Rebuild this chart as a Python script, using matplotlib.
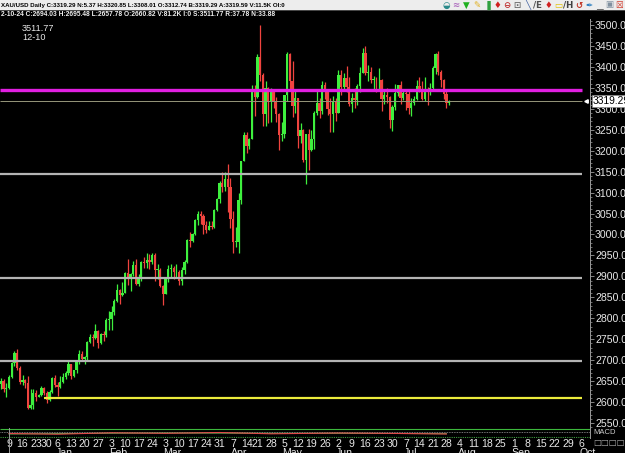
import numpy as np
import pandas as pd
import matplotlib
matplotlib.use("Agg")
import matplotlib.pyplot as plt
from matplotlib.transforms import blended_transform_factory

plt.rcParams['font.family'] = ['Liberation Sans Narrow', 'Liberation Sans', 'DejaVu Sans']

# trading days shown on the chart (holidays with no candle removed)
holidays = ['2024-12-25', '2025-01-01', '2025-04-18']
days = pd.bdate_range('2024-12-04', '2025-10-10')
days = days[~days.isin(pd.to_datetime(holidays))]

# daily XAU/USD candles, Dec 4 2024 .. Jul 29 2025
opens = [2643, 2650, 2632,
         2633, 2660.82, 2694, 2718, 2681,
         2648, 2652, 2646, 2587, 2594,
         2622, 2613, 2617, 2634,
         2621, 2606, 2624, 2658,
         2640, 2635, 2649, 2661, 2670,
         2690, 2663, 2677, 2697, 2715,
         2702, 2708, 2744, 2755, 2754,
         2770, 2740, 2763, 2760, 2795,
         2798, 2815, 2842, 2867, 2856,
         2861, 2908, 2898, 2905, 2928,
         2883, 2898, 2935, 2933, 2939,
         2935, 2951, 2915, 2916, 2876,
         2857, 2893, 2918, 2920, 2910,
         2910, 2889, 2916, 2935, 2988,
         2985, 3001, 3035, 3048, 3044,
         3023, 3011, 3020, 3019, 3058,
         3085, 3124, 3113, 3133, 3114,
         3037, 2982, 2983, 3083, 3175,
         3237, 3211, 3229, 3342,
         3327, 3423, 3381, 3288, 3349,
         3318, 3343, 3317, 3288, 3238,
         3241, 3333, 3430, 3366, 3306,
         3325, 3234, 3249, 3178, 3240,
         3202, 3229, 3291, 3315, 3295,
         3357, 3342, 3300, 3288, 3318,
         3289, 3381, 3353, 3373, 3352,
         3311, 3326, 3322, 3355, 3386,
         3432, 3385, 3389, 3369, 3369,
         3368, 3368, 3323, 3333, 3328,
         3274, 3304, 3338, 3357, 3326,
         3337, 3336, 3301, 3313, 3324,
         3355, 3343, 3324, 3347, 3339,
         3350, 3397, 3431, 3387, 3368,
         3336, 3312.74]
highs = [2657, 2656, 2646,
         2665, 2695.48, 2721, 2726, 2686,
         2664, 2655, 2663, 2632, 2632,
         2630, 2620, 2639, 2637,
         2627, 2628, 2660, 2665,
         2649, 2662, 2670, 2674, 2697,
         2692, 2677, 2699, 2724, 2722,
         2710, 2746, 2763, 2763, 2786,
         2772, 2765, 2770, 2800, 2817,
         2830, 2845, 2882, 2870, 2886,
         2911, 2942, 2908, 2937, 2942,
         2905, 2936, 2947, 2955, 2954,
         2956, 2956, 2930, 2920, 2880,
         2896, 2927, 2930, 2926, 2930,
         2915, 2922, 2940, 2990, 3005,
         3003, 3038, 3056, 3057, 3048,
         3033, 3032, 3032, 3060, 3087,
         3128, 3149, 3148, 3168, 3136,
         3055, 3018, 3099, 3175, 3245,
         3245, 3231, 3357, 3357,
         3430, 3500, 3386, 3367, 3353,
         3350, 3346, 3327, 3290, 3269,
         3334, 3436, 3434, 3415, 3348,
         3326, 3265, 3252, 3240, 3252,
         3249, 3295, 3345, 3325, 3366,
         3365, 3344, 3325, 3331, 3325,
         3392, 3392, 3385, 3403, 3375,
         3338, 3349, 3360, 3399, 3446,
         3451, 3405, 3399, 3378, 3375,
         3398, 3370, 3347, 3350, 3330,
         3308, 3358, 3357, 3366, 3345,
         3343, 3345, 3325, 3330, 3369,
         3375, 3366, 3377, 3352, 3361,
         3402, 3433, 3438, 3393, 3372,
         3345, 3320.85]
lows = [2631, 2625, 2613,
        2632, 2657.78, 2686, 2677, 2643,
        2642, 2634, 2583, 2583, 2584,
        2602, 2611, 2615, 2616,
        2597, 2602, 2622, 2635,
        2615, 2633, 2645, 2656, 2664,
        2656, 2660, 2669, 2691, 2697,
        2690, 2700, 2741, 2735, 2750,
        2730, 2738, 2745, 2755, 2772,
        2772, 2808, 2840, 2834, 2853,
        2860, 2880, 2864, 2900, 2880,
        2877, 2890, 2921, 2919, 2918,
        2930, 2889, 2894, 2874, 2832,
        2857, 2886, 2895, 2894, 2897,
        2880, 2880, 2905, 2932, 2970,
        2982, 2998, 3023, 3025, 3000,
        3004, 3010, 3012, 3015, 3055,
        3076, 3101, 3105, 3054, 3015,
        2956, 2970, 2957, 3073, 3175,
        3194, 3204, 3228, 3283,
        3325, 3367, 3260, 3260, 3265,
        3268, 3301, 3268, 3202, 3222,
        3231, 3319, 3345, 3280, 3290,
        3207, 3219, 3174, 3120, 3153,
        3200, 3203, 3285, 3277, 3287,
        3324, 3285, 3245, 3245, 3271,
        3289, 3334, 3343, 3340, 3307,
        3293, 3301, 3310, 3340, 3385,
        3381, 3366, 3362, 3346, 3340,
        3347, 3295, 3311, 3315, 3255,
        3248, 3297, 3330, 3311, 3322,
        3296, 3287, 3283, 3310, 3321,
        3341, 3320, 3319, 3309, 3332,
        3345, 3384, 3381, 3351, 3324,
        3301, 3308.01]
closes = [2650, 2632, 2633,
          2660, 2694.03, 2718, 2681, 2648,
          2652, 2646, 2587, 2594, 2622,
          2613, 2617, 2634, 2621,
          2606, 2624, 2658, 2640,
          2635, 2649, 2661, 2670, 2690,
          2663, 2677, 2697, 2715, 2702,
          2708, 2744, 2755, 2754, 2770,
          2740, 2763, 2760, 2795, 2798,
          2815, 2842, 2867, 2856, 2861,
          2908, 2898, 2905, 2928, 2883,
          2898, 2935, 2933, 2939, 2935,
          2951, 2915, 2916, 2876, 2857,
          2893, 2918, 2920, 2910, 2910,
          2889, 2916, 2935, 2988, 2985,
          3001, 3035, 3048, 3044, 3023,
          3011, 3020, 3019, 3058, 3085,
          3124, 3113, 3133, 3114, 3037,
          2982, 2983, 3083, 3175, 3237,
          3211, 3229, 3342, 3327,
          3423, 3381, 3288, 3349, 3318,
          3343, 3317, 3288, 3238, 3241,
          3333, 3430, 3366, 3306, 3325,
          3234, 3249, 3178, 3240, 3202,
          3229, 3291, 3315, 3295, 3357,
          3342, 3300, 3288, 3318, 3289,
          3381, 3353, 3373, 3352, 3311,
          3326, 3322, 3355, 3386, 3432,
          3385, 3389, 3369, 3369, 3368,
          3368, 3323, 3333, 3328, 3274,
          3304, 3338, 3357, 3326, 3337,
          3336, 3301, 3313, 3324, 3355,
          3343, 3324, 3347, 3339, 3350,
          3397, 3431, 3387, 3368, 3336,
          3314, 3319.29]

# horizontal levels drawn on the chart
gray_levels = [3144, 2895, 2697]
magenta_level = 3345
yellow_level = 2610
last_price = 3319.29

# MACD strip (weekly readings, 0..1 scale of the tiny pane)
macd_weeks = ['2024-12-09', '2025-01-06', '2025-02-03', '2025-03-03', '2025-03-31',
              '2025-04-28', '2025-06-02', '2025-06-30', '2025-07-28']
macd_line = [0.45, 0.38, 0.52, 0.47, 0.55, 0.42, 0.50, 0.46, 0.40]
signal_line = [0.40, 0.44, 0.48, 0.50, 0.49, 0.47, 0.47, 0.45, 0.43]

header = ("XAU/USD Daily C:3319.29 N:5.37 H:3320.85 L:3308.01 O:3312.74 "
          "B:3319.29 A:3319.59 V:11.5K OI:0")
subheader = ("2-10-24 C:2694.03 H:2695.48 L:2657.78 O:2660.82 V:81.2K I:0 "
             "S:3511.77 R:37.78 N:33.88")

W, H = 625, 453
fig = plt.figure(figsize=(W / 100, H / 100), dpi=100, facecolor='black')

def fx(p):
    return p / W

def fy(p):
    return 1 - p / H

i0 = 3                     # index of Dec 9 (first labelled Monday)
px_day = 2.7
x_left = i0 - 9 / px_day
x_right = i0 + (590 - 9) / px_day
x_line_end = i0 + (582 - 9) / px_day
y_top = 3500 + 6 / 20.95 * 50
y_bot = 3500 - 403 / 20.95 * 50

ax = fig.add_axes([0, fy(428), fx(590), (428 - 19) / H])
ax.set_facecolor('black')
ax.set_xlim(x_left, x_right)
ax.set_ylim(y_bot, y_top)

o = np.array(opens)
hi = np.array(highs)
lo = np.array(lows)
c = np.array(closes)
x = np.arange(len(c))
up = c >= o
green = '#3ef03e'
red = '#f0443f'
cols = np.where(up, green, red)

ax.vlines(x, lo, hi, colors=cols, linewidth=0.9, zorder=2)
body_lo = np.minimum(o, c)
body_h = np.maximum(np.abs(c - o), 1.5)
ax.bar(x, body_h, bottom=body_lo, width=0.86, color=cols, linewidth=0, zorder=3)

# levels
ax.hlines(gray_levels, x_left, x_line_end, colors='#b4b4b4', linewidth=1.6, zorder=4)
ax.hlines(magenta_level, x_left, x_line_end, colors='#e01fe0', linewidth=2.4, zorder=4)
ax.hlines(yellow_level, 16, x_line_end, colors='#ecec3c', linewidth=1.6, zorder=4)
ax.hlines(last_price, x_left, x_line_end, colors='#96967a', linewidth=0.7, zorder=4)

# right price axis
ax.yaxis.tick_right()
ax.set_yticks(np.arange(2550, 3501, 50))
ax.set_yticks(np.arange(2540, 3511, 10), minor=True)
ax.set_yticklabels(['%.2f' % v for v in np.arange(2550, 3501, 50)])
ax.tick_params(axis='y', which='major', length=3, width=0.6, color='#9a9a9a',
               labelsize=7.6, labelcolor='#e8e8e8', pad=0.6)
ax.tick_params(axis='y', which='minor', length=1.5, width=0.5, color='#9a9a9a')
ax.set_xticks([])
for s in ['top', 'left', 'bottom']:
    ax.spines[s].set_visible(False)
ax.spines['right'].set_color('#9a9a9a')
ax.spines['right'].set_linewidth(0.7)

ax.text(1.004, last_price, '%.2f' % last_price,
        transform=blended_transform_factory(ax.transAxes, ax.transData),
        ha='left', va='center', fontsize=7.4, color='black', zorder=10, clip_on=False,
        bbox=dict(boxstyle='square,pad=0.08', fc='white', ec='#888888', lw=0.5))
ax.plot([i0 + (586 - 9) / px_day], [last_price], marker='<', ms=2.5, color='white',
        clip_on=False, zorder=10)

ax.text(22 / 590, 1 - 9 / 409, '3511.77', transform=ax.transAxes, family='Liberation Sans',
        ha='left', va='center', fontsize=6.6, color='#e8e8e8')
ax.text(22 / 590, 1 - 18 / 409, '12-10', transform=ax.transAxes, family='Liberation Sans',
        ha='left', va='center', fontsize=6.6, color='#e8e8e8')

# MACD strip
axm = fig.add_axes([0, fy(438), fx(590), 10 / H])
axm.set_facecolor('black')
axm.set_xlim(x_left, x_right)
axm.set_ylim(0, 1)
mpos = [days.get_loc(pd.Timestamp(d)) for d in macd_weeks]
axm.hlines(0.88, x_left, x_right, colors='#3cb83c', linewidth=0.8)
axm.hlines(0.62, x_left, x_right, colors='#9a9a9a', linewidth=0.6, linestyles=(0, (1, 1)))
axm.hlines(0.12, x_left, x_right, colors='#3c9a3c', linewidth=0.8, linestyles=(0, (1, 1)))
axm.plot(mpos, signal_line, color='#58c058', linewidth=0.7)
axm.plot(mpos, macd_line, color='#e04848', linewidth=0.8)
for s in ['top', 'left', 'bottom']:
    axm.spines[s].set_visible(False)
axm.spines['right'].set_color('#9a9a9a')
axm.spines['right'].set_linewidth(0.7)
axm.set_yticks([])

mondays = pd.date_range('2024-12-09', '2025-10-06', freq='W-MON')
tick_pos = [days.get_loc(d) for d in mondays]
axm.set_xticks(tick_pos)
axm.set_xticklabels([str(d.day) for d in mondays])
axm.tick_params(axis='x', length=0, pad=1.0, labelsize=7.6, labelcolor='#e8e8e8')

tr = blended_transform_factory(axm.transData, fig.transFigure)
for d, p in zip(mondays, tick_pos):
    if d.day <= 7 and d.month != 12:
        axm.text(p - 0.8, fy(448.5), d.strftime('%b'), transform=tr, ha='left', va='top',
                 fontsize=7.6, color='#e8e8e8', clip_on=False)

fig.text(fx(593), fy(433), 'MACD', fontsize=5.5, color='#cccccc', ha='left', va='center')
fig.text(fx(593), fy(443), '\u25a1\u25a1\u25a1\u25a1', fontsize=6, color='#aaaaaa',
         ha='left', va='center', family='DejaVu Sans')
fig.add_artist(plt.Line2D([fx(9), fx(9)], [fy(428), 0], color='#9a9a9a', linewidth=0.7))

# header strips
fig.add_artist(plt.Rectangle((0, fy(10)), 1, 10 / H, facecolor='#ededed', edgecolor='none'))
fig.add_artist(plt.Line2D([0, 1], [fy(10), fy(10)], color='#555555', linewidth=0.6))
fig.text(fx(1), fy(5), header, fontsize=4.4, fontweight='bold', color='black',
         ha='left', va='center')
fig.text(fx(1), fy(15), subheader, fontsize=4.8, fontweight='bold', color='#f0f0f0',
         ha='left', va='center')

icons = [('\u25d2', '#2a8a8a'), ('\u2248', '#b070c0'), ('\u25bc', '#20b020'),
         ('\u270e', '#e0b020'), ('\u2590', '#30a040'), ('\u2666', '#d02020'),
         ('\u2296', '#c03030'), ('\u22a1', '#707070'), ('\u2572', '#4060a0'),
         ('/E', '#505050'), ('\u2666', '#d02020'), ('\u25ad', '#e0c000'),
         ('/H', '#404040'), ('\u21ba', '#c03020'), ('\u2712', '#3080c0'),
         ('\u2581', '#707070'), ('\u25a3', '#8090a0'), ('\u2612', '#d03020')]
for k, (g, col) in enumerate(icons):
    fig.text(fx(446 + k * 10.2), fy(5), g, fontsize=6.2, color=col, ha='center',
             va='center', family=['DejaVu Sans'], fontweight='bold')

fig.savefig('out.png', dpi=100, facecolor='black')
